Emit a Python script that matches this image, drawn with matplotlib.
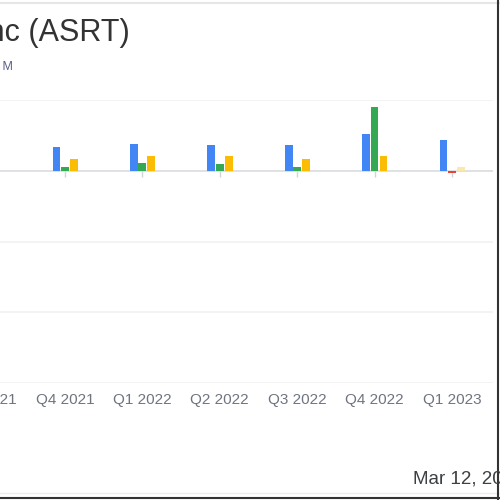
import numpy as np
import matplotlib
matplotlib.use("Agg")
import matplotlib.pyplot as plt
from matplotlib.lines import Line2D

plt.rcParams['font.family'] = ['Liberation Sans', 'DejaVu Sans']

# quarterly figures, USD millions
quarters = ['Q3 2021', 'Q4 2021', 'Q1 2022', 'Q2 2022', 'Q3 2022', 'Q4 2022', 'Q1 2023']
revenue = [25, 27, 30, 29.6, 29.6, 42, 35]
net_income = [3, 4, 9, 8, 4, 72, -2.4]
cash_flow = [13.6, 13.6, 17, 17, 13.6, 17, 4]
y_ticks = [80, 0, -80, -160, -240]

BLUE = '#4285f4'
GREEN = '#34a853'
RED = '#ea4335'
YELLOW = '#fbbc04'
PALE_YELLOW = '#fce8a8'

fig = plt.figure(figsize=(5, 5), dpi=100)
# the chart is cut on the left, so the axes start outside the canvas
ax = fig.add_axes([-0.107, 0.234, 1.093, 0.566])

x = np.arange(len(quarters))
w = 0.1
ax.bar(x - 0.11, revenue, w, color=BLUE, zorder=3)
green_cols = [GREEN if v >= 0 else RED for v in net_income]
ax.bar(x, net_income, w, color=green_cols, zorder=3)
yellow_cols = [YELLOW] * (len(quarters) - 1) + [PALE_YELLOW]
ax.bar(x + 0.115, cash_flow, w, color=yellow_cols, zorder=3)

ax.set_xlim(-0.53, len(quarters) - 1 + 0.53)
ax.set_ylim(min(y_ticks), max(y_ticks))
ax.set_yticks(y_ticks)
ax.set_yticklabels([])
ax.set_xticks(x)
ax.set_xticklabels(quarters, fontsize=11, color='#6f7480')
ax.tick_params(axis='x', length=0, pad=7)
ax.tick_params(axis='y', length=0)
for v in y_ticks:
	ax.axhline(v, color='#dadce0' if v == 0 else '#f0f1f3', lw=1.2, zorder=1)
ax.plot(x, np.zeros(len(x)), ls='none', marker=3, ms=4, color='#d0d3d8', zorder=2)
for s in ax.spines.values():
	s.set_visible(False)

fig.text(130 / 500, 1 - 41 / 500, 'Assertio Holdings Inc (ASRT)', ha='right', va='baseline',
	fontsize=22, color='#333333')
fig.text(13 / 500, 1 - 67 / 500, 'Financial data in M', ha='right', va='center',
	fontsize=9, color='#5a5f8a')
fig.text(413 / 500, 1 - 484 / 500, 'Mar 12, 2024', ha='left', va='baseline',
	fontsize=13.5, color='#3c4043')

# card frame
fig.add_artist(Line2D([0, 1], [1 - 3 / 500, 1 - 3 / 500], color='#e6e6e6', lw=1.5))
fig.add_artist(Line2D([0, 1], [1 - 493 / 500, 1 - 493 / 500], color='#ececec', lw=1))
fig.add_artist(Line2D([0, 1], [1 - 497.5 / 500, 1 - 497.5 / 500], color='#333333', lw=1.5))
fig.add_artist(Line2D([497.5 / 500, 497.5 / 500], [0, 1], color='#333333', lw=1.5))

fig.savefig('out.png', dpi=100)
